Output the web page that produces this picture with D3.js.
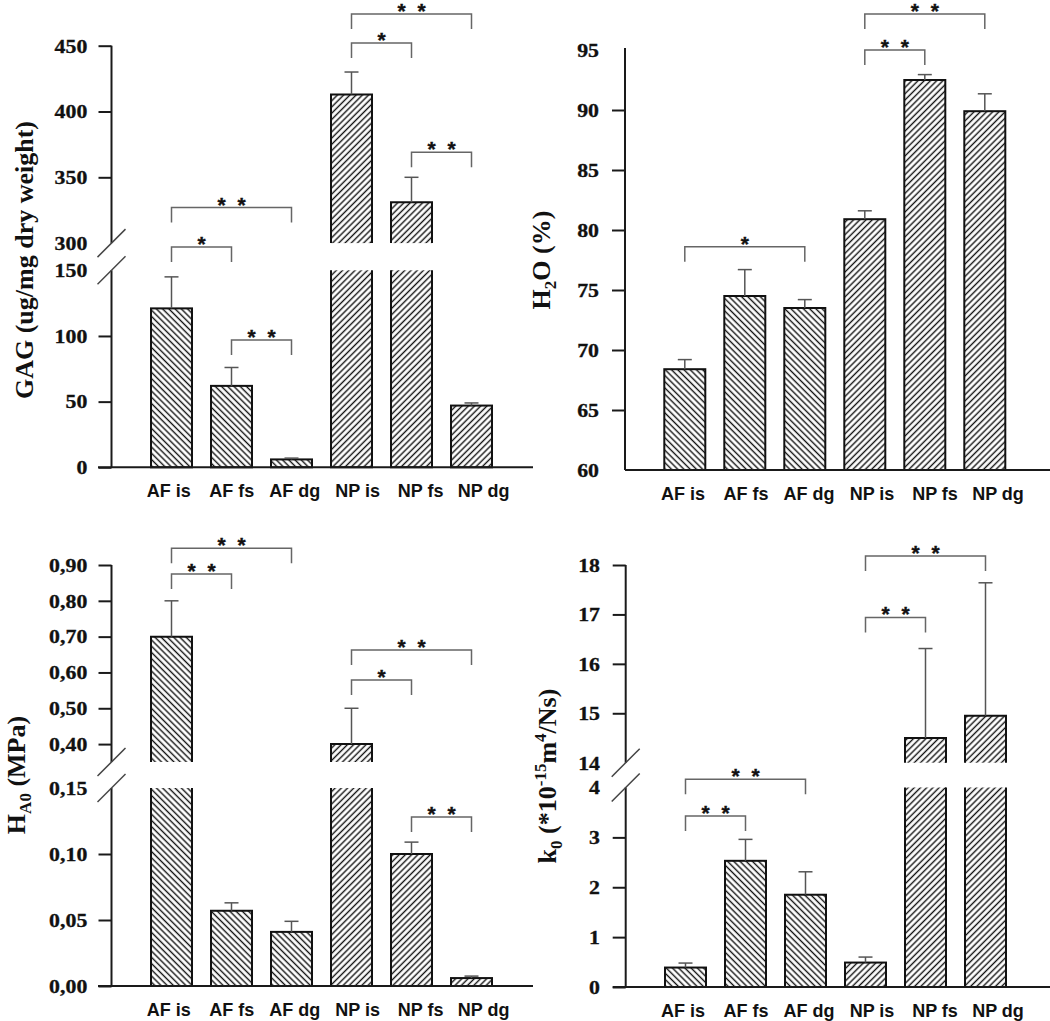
<!DOCTYPE html>
<html><head><meta charset="utf-8">
<script src="https://cdn.jsdelivr.net/npm/d3@7"></script>
<style>body{margin:0;background:#fff} svg{display:block}</style>
</head><body><svg id="c" width="1050" height="1021"></svg>
<script>
// ---------- data ----------
const categories = ["AF is","AF fs","AF dg","NP is","NP fs","NP dg"];

const gagMean = [121, 62, 6, 413, 331, 47];
const gagErr  = [24, 14, 1, 17, 19, 2];
const h2oMean = [68.4, 74.5, 73.5, 80.9, 92.5, 89.9];
const h2oErr  = [0.8, 2.2, 0.7, 0.7, 0.45, 1.45];
const haMean  = [0.70, 0.057, 0.041, 0.40, 0.100, 0.006];
const haErr   = [0.10, 0.006, 0.008, 0.10, 0.009, 0.0015];
const k0Mean  = [0.39, 2.53, 1.85, 0.49, 14.50, 14.95];
const k0Err   = [0.09, 0.43, 0.46, 0.11, 1.81, 2.69];

const gagTicks = [0,50,100,150,300,350,400,450];
const h2oTicks = [60,65,70,75,80,85,90,95];
const haTicks  = [0,0.05,0.10,0.15,0.40,0.50,0.60,0.70,0.80,0.90];
const k0Ticks  = [0,1,2,3,4,14,15,16,17,18];

// significance brackets: [from index, to index, level (data units), stars]
const gagSig = [[0,1,278,"*"],[0,2,327,"**"],[1,2,97,"**"],[3,4,452,"*"],[3,5,474,"**"],[4,5,369,"**"]];
const h2oSig = [[0,2,78.6,"*"],[3,4,95.0,"**"],[3,5,98.0,"**"]];
const haSig  = [[0,1,0.875,"**"],[0,2,0.947,"**"],[3,4,0.579,"*"],[3,5,0.663,"**"],[4,5,0.128,"**"]];
const k0Sig  = [[3,5,18.18,"**"],[3,4,16.94,"**"],[0,2,7.3,"**"],[0,1,3.43,"**"]];

// ---------- layout ----------
const commaFmt = d => d3.format(".2f")(d).replace(".", ",");
const panels = [
  {mean:gagMean, err:gagErr, ticks:gagTicks, sig:gagSig, fmt:d3.format("d"),
   domain:[0,150,300,450], range:[467.3,270.3,243.1,45.7], axisX:111.5, axisTop:45.7,
   band:[141.5,501.5], labelX:168.7, xLeft:98, xRight:533, noTick:[150,300], gap:24.2,
   title:[["GAG (ug/mg dry weight)",""]], titleX:33, titleY:260},
  {mean:h2oMean, err:h2oErr, ticks:h2oTicks, sig:h2oSig, fmt:d3.format("d"),
   domain:[60,95], range:[470,50], axisX:625, axisTop:48,
   band:[654.8,1014.8], labelX:683, xLeft:625, xRight:1050, noTick:[60,95], gap:26,
   title:[["H",""],["2","sub"],["O (%)",""]], titleX:550, titleY:260},
  {mean:haMean, err:haErr, ticks:haTicks, sig:haSig, fmt:commaFmt,
   domain:[0,0.15,0.35,0.90], range:[986,788,762,565], axisX:111.5, axisTop:565,
   band:[141.5,501.5], labelX:168.7, xLeft:98, xRight:533, noTick:[0.15], gap:24.2,
   title:[["H",""],["A0","sub"],[" (MPa)",""]], titleX:25, titleY:775},
  {mean:k0Mean, err:k0Err, ticks:k0Ticks, sig:k0Sig, fmt:d3.format("d"),
   domain:[0,4,14,18], range:[987,787.5,762.7,565], axisX:625.7, axisTop:565,
   band:[655.5,1015.5], labelX:683, xLeft:612.7, xRight:1050, noTick:[4,14], gap:25.7,
   title:[["k",""],["0","sub"],[" (*10",""],["-15","sup"],["m",""],["4","sup"],["/Ns)",""]], titleX:556, titleY:776}
];

const svg = d3.select("#c");
const defs = svg.append("defs");
function hatch(id, angle){
  const s = 4.4;
  const p = defs.append("pattern").attr("id",id).attr("patternUnits","userSpaceOnUse")
    .attr("width",s).attr("height",s).attr("patternTransform",`rotate(${angle})`);
  p.append("rect").attr("width",s).attr("height",s).attr("fill","#fff");
  p.append("line").attr("x1",s/2).attr("x2",s/2).attr("y1",-1).attr("y2",s+1)
    .attr("stroke","#111").attr("stroke-width",1.4);
}
hatch("hAF",-45); hatch("hNP",45);

const AXC = "#1a1a1a", GR = "#555";

panels.forEach(P => {
  const g = svg.append("g");
  const y = d3.scaleLinear().domain(P.domain).range(P.range);
  const broken = P.domain.length === 4;
  const x = d3.scaleBand().domain(categories).range(P.band).paddingInner(19/60).paddingOuter(9.5/60);
  const xl = d3.scalePoint().domain(categories).range([P.labelX, P.labelX + 63*5]);
  const y0 = y(P.domain[0]);

  // bars
  categories.forEach((c,i) => {
    const v = P.mean[i], bx = x(c), w = x.bandwidth();
    const fill = c.startsWith("AF") ? "url(#hAF)" : "url(#hNP)";
    if (broken && v > P.domain[2]) {
      const yl = y(P.domain[1]), yu = y(P.domain[2]), yv = y(v);
      g.append("rect").attr("x",bx).attr("y",yl).attr("width",w).attr("height",y0-yl).attr("fill",fill);
      g.append("rect").attr("x",bx).attr("y",yv).attr("width",w).attr("height",yu-yv).attr("fill",fill);
      g.append("path").attr("d",`M${bx},${yl}V${y0}H${bx+w}V${yl}`).attr("fill","none").attr("stroke","#111").attr("stroke-width",2);
      g.append("path").attr("d",`M${bx},${yu}V${yv}H${bx+w}V${yu}`).attr("fill","none").attr("stroke","#111").attr("stroke-width",2);
    } else {
      const yv = y(v);
      g.append("rect").attr("x",bx).attr("y",yv).attr("width",w).attr("height",y0-yv)
        .attr("fill",fill).attr("stroke","#111").attr("stroke-width",2);
    }
    // error bar
    const cx = bx + w/2, ye = y(v + P.err[i]);
    g.append("line").attr("x1",cx).attr("x2",cx).attr("y1",y(v)).attr("y2",ye).attr("stroke",GR).attr("stroke-width",1.5);
    g.append("line").attr("x1",cx-7).attr("x2",cx+7).attr("y1",ye).attr("y2",ye).attr("stroke",GR).attr("stroke-width",1.5);
  });

  // y axis ticks & labels
  const ax = g.append("g").attr("transform",`translate(${P.axisX},0)`)
    .call(d3.axisLeft(y).tickValues(P.ticks).tickSize(13).tickPadding(0).tickFormat(P.fmt));
  ax.select(".domain").remove();
  ax.attr("font-family","'Liberation Serif','Times New Roman',serif").attr("font-size",18.5).attr("font-weight","bold").attr("color",AXC);
  ax.selectAll(".tick line").attr("stroke-width",2).filter(d => P.noTick.includes(d)).remove();
  ax.selectAll(".tick text").attr("x",null).attr("dy","0.34em").attr("fill","#111")
    .attr("stroke","#111").attr("stroke-width",0.3)
    .attr("transform",`translate(${-P.gap},0) scale(1.18,1)`);

  // y axis line (with break)
  if (broken) {
    const yl = y(P.domain[1]), yu = y(P.domain[2]);
    g.append("line").attr("x1",P.axisX).attr("x2",P.axisX).attr("y1",y0).attr("y2",yl).attr("stroke",AXC).attr("stroke-width",2);
    g.append("line").attr("x1",P.axisX).attr("x2",P.axisX).attr("y1",yu).attr("y2",P.axisTop).attr("stroke",AXC).attr("stroke-width",2);
    [yl, yu].forEach(yy => {
      g.append("line").attr("x1",P.axisX-14).attr("y1",yy+14).attr("x2",P.axisX+14).attr("y2",yy-14)
        .attr("stroke","#444").attr("stroke-width",1.5);
    });
  } else {
    g.append("line").attr("x1",P.axisX).attr("x2",P.axisX).attr("y1",y0).attr("y2",P.axisTop).attr("stroke",AXC).attr("stroke-width",2);
  }
  // x axis
  g.append("line").attr("x1",P.xLeft).attr("x2",P.xRight).attr("y1",y0).attr("y2",y0).attr("stroke",AXC).attr("stroke-width",2);
  g.selectAll(".xl").data(categories).enter().append("text")
    .attr("x",c => xl(c)).attr("y",y0+29.5).attr("text-anchor","middle")
    .attr("font-family","'Liberation Sans',Arial,sans-serif").attr("font-weight","bold").attr("font-size",18).attr("fill","#111")
    .text(c => c);

  // significance brackets
  P.sig.forEach(([a,b,lev,st]) => {
    const xa = x(categories[a]) + x.bandwidth()/2, xb = x(categories[b]) + x.bandwidth()/2, yy = y(lev);
    g.append("path").attr("d",`M${xa},${yy+15}V${yy}H${xb}V${yy+15}`).attr("fill","none").attr("stroke","#666").attr("stroke-width",1.5);
    const mid = (xa+xb)/2;
    const xs = st.length === 2 ? [mid-10, mid+10] : [mid];
    xs.forEach(sx => g.append("text").attr("x",sx).attr("y",yy+4).attr("text-anchor","middle")
      .attr("font-family","'Liberation Sans',Arial,sans-serif").attr("font-weight","bold").attr("font-size",21).attr("fill","#111")
      .attr("stroke","#111").attr("stroke-width",0.4).text("*"));
  });

  // y title
  const t = g.append("text").attr("transform",`translate(${P.titleX},${P.titleY}) rotate(-90)`)
    .attr("text-anchor","middle").attr("font-family","'Liberation Serif','Times New Roman',serif")
    .attr("font-weight","bold").attr("font-size",26).attr("fill","#111");
  let shift = 0;
  P.title.forEach(([txt,kind]) => {
    const target = kind === "sub" ? 6 : kind === "sup" ? -10 : 0;
    const ts = t.append("tspan").attr("dy", target - shift).text(txt);
    if (kind) ts.attr("font-size",17);
    shift = target;
  });
});
</script></body></html>
